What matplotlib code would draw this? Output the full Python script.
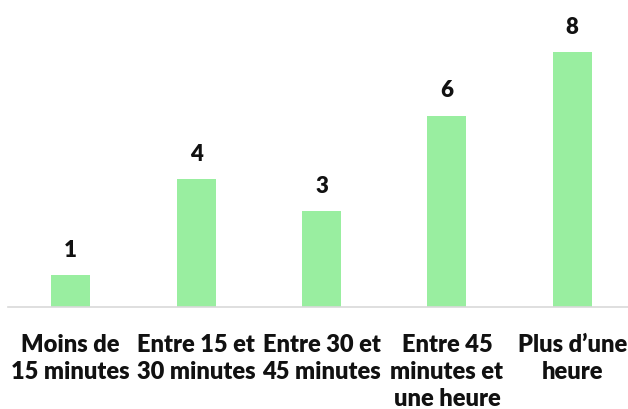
import matplotlib
matplotlib.use("Agg")
import matplotlib.pyplot as plt
import numpy as np

# donnees
categories = ["Moins de\n15 minutes", "Entre 15 et\n30 minutes", "Entre 30 et\n45 minutes",
              "Entre 45\nminutes et\nune heure", "Plus d\u2019une\nheure"]
valeurs = [1, 4, 3, 6, 8]

plt.rcParams['font.family'] = ['Lato', 'DejaVu Sans']

fig = plt.figure(figsize=(6.28, 4.10), dpi=100)
ax = fig.add_axes([8 / 628, 102 / 410, 627 / 628, 287 / 410])

x = np.arange(len(categories))
barres = ax.bar(x, valeurs, width=0.31, color="#99EEA0")

# etiquettes de valeur au-dessus des barres
for b, v in zip(barres, valeurs):
    ax.annotate(str(v), (b.get_x() + b.get_width() / 2, v), xytext=(0, 11),
                textcoords="offset points", ha="center", va="bottom",
                fontsize=16, fontweight="heavy", color="#111111")

ax.set_xlim(-0.5, 4.5)
ax.set_ylim(0, 9)
ax.set_xticks(x)
ax.set_xticklabels(categories, fontsize=17, fontweight="heavy", color="#111111",
                   linespacing=1.27, va="top")
ax.tick_params(axis="x", length=0, pad=19)
ax.set_yticks([])

for s in ["top", "right", "left"]:
    ax.spines[s].set_visible(False)
ax.spines["bottom"].set_color("#d9d9d9")
ax.spines["bottom"].set_linewidth(1.2)

fig.savefig("out.png", dpi=100)
